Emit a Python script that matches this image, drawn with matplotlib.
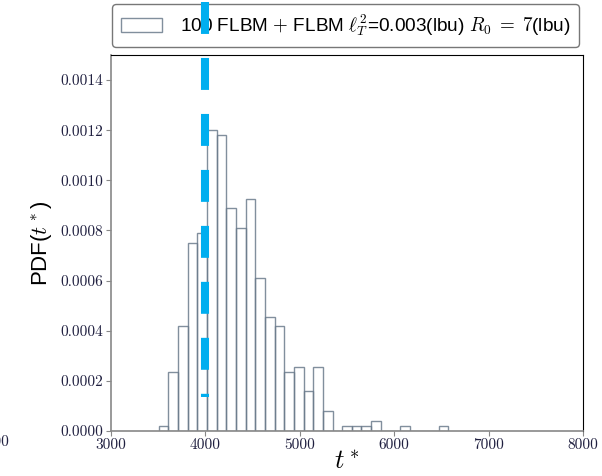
import matplotlib
matplotlib.use('Agg')
import matplotlib.pyplot as plt
import numpy as np

IMG_DPI = 100

# histogram (density per bin)
t_min, t_max, n_bins = 3505, 6574, 30
pdf_values = [0.000021, 0.000237, 0.000417, 0.000750, 0.000790,
              0.001200, 0.001180, 0.000888, 0.000810, 0.000925,
              0.000610, 0.000455, 0.000417, 0.000237, 0.000257,
              0.000160, 0.000257, 0.000080, 0.0, 0.000020,
              0.000020, 0.000020, 0.000040, 0.0, 0.0,
              0.000020, 0.0, 0.0, 0.0, 0.000020]
t_ref = 4000
ref_top, ref_bottom = 0.001713, 0.000135
label = r'100 FLBM $+$ FLBM $\ell_T^2$=0.003(lbu) $R_0\;=\;7$(lbu)'
x_ticks = [3000, 4000, 5000, 6000, 7000, 8000]
y_ticks = [0.0, 0.0002, 0.0004, 0.0006, 0.0008, 0.0010, 0.0012, 0.0014]

plt.rcParams['mathtext.fontset'] = 'cm'
plt.rcParams['font.family'] = ['Liberation Sans', 'DejaVu Sans']
plt.rcParams['lines.scale_dashes'] = False

W, H = 602, 476
fig = plt.figure(figsize=(W / IMG_DPI, H / IMG_DPI), dpi=IMG_DPI)
ax = fig.add_axes([111 / W, 1 - 431 / H, (583 - 111) / W, (431 - 55) / H])

edges = np.linspace(t_min, t_max, n_bins + 1)
ax.hist(edges[:-1], bins=edges, weights=pdf_values, histtype='bar',
        fill=False, edgecolor='#6b7b8c', linewidth=1.0, alpha=0.85,
        label=label, zorder=2)

# reference time, drawn over the legend as well
ax.plot([t_ref, t_ref], [ref_top, ref_bottom], color='#00aeef', lw=5.8,
        dashes=(23, 17.3), clip_on=False, zorder=20)

ax.set_xlim(3000, 8000)
ax.set_ylim(0, 0.0015)
ax.set_xticks(x_ticks)
ax.set_yticks(y_ticks)
ax.set_xticklabels([f'{v}' for v in x_ticks])
ax.set_yticklabels([f'{v:.4f}' for v in y_ticks])
for lbl in ax.get_xticklabels() + ax.get_yticklabels():
    lbl.set_fontfamily('cmr10')
    lbl.set_fontsize(11)
ax.tick_params(colors='#888888', labelcolor='#202040', length=3.5, pad=2)
ax.spines['left'].set_color('#888888')
ax.spines['bottom'].set_color('#888888')
ax.spines['left'].set_linewidth(1.2)
ax.spines['bottom'].set_linewidth(1.2)

ax.set_xlabel(r'$t^*$', fontsize=19, labelpad=-2)
ax.set_ylabel(r'PDF($t^*$)', fontsize=16, labelpad=4)

leg = ax.legend(loc='lower right', bbox_to_anchor=(579 / W, 1 - 47 / H),
                bbox_transform=fig.transFigure, borderaxespad=0, fontsize=13.7,
                handlelength=2.15, handletextpad=0.95, borderpad=0.45,
                frameon=True, fancybox=True, framealpha=1)
leg.get_frame().set_edgecolor('#777777')
leg.set_zorder(10)

# part of a neighbouring tick label cut by the figure edge
fig.text(9 / W, 1 - 449 / H, '8000', ha='right', va='bottom',
         fontfamily='cmr10', fontsize=11, color='#202040')

plt.savefig('out.png', dpi=IMG_DPI)
